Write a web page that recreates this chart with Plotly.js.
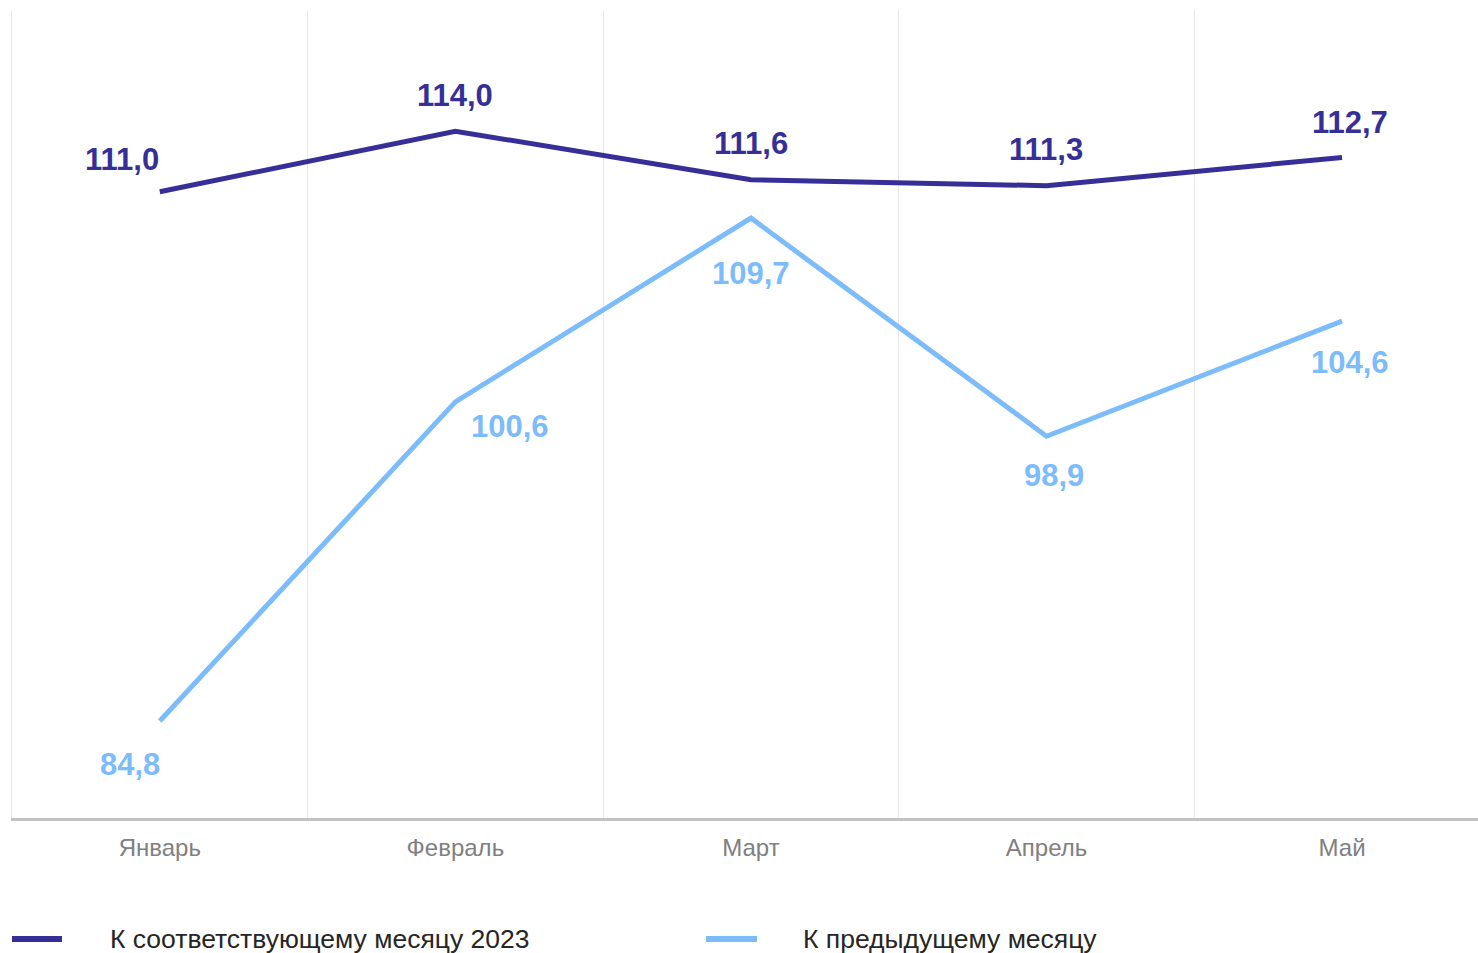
<!DOCTYPE html>
<html><head><meta charset="utf-8">
<script src="https://cdn.plot.ly/plotly-3.0.1.min.js"></script>
<style>html,body{margin:0;padding:0;background:#fff;overflow:hidden}</style>
</head><body><div id="chart" style="width:1478px;height:953px"></div>
<script>
// ---- data ----
const months = ["Январь", "Февраль", "Март", "Апрель", "Май"];
const seriesYoYName = "К соответствующему месяцу 2023";
const seriesYoY = [111.0, 114.0, 111.6, 111.3, 112.7];
const seriesMoMName = "К предыдущему месяцу";
const seriesMoM = [84.8, 100.6, 109.7, 98.9, 104.6];

// ---- styling ----
const darkColor = "#352f97";
const lightColor = "#7dbcfb";
const FONT = "'Liberation Sans', Arial, sans-serif";
// label offsets (pixels) [xshift, yshift]
const yoyOffsets = [[-38, 32], [0, 36], [0, 36], [0, 36], [8, 35]];
const momOffsets = [[-30, -43], [55, -25], [0, -55], [8, -39], [8, -41]];

const W = 1478, H = 953;
const mL = 12, mR = 0, mT = 10, mB = 135;
const plotW = W - mL - mR, plotH = H - mT - mB;
const px = x => (x - mL) / plotW;
const py = y => (mT + plotH - y) / plotH;

const idx = months.map((_, i) => i);

const traces = [
  {x: idx, y: seriesYoY, type: "scatter", mode: "lines", name: seriesYoYName,
   line: {color: darkColor, width: 5}, showlegend: false, hoverinfo: "y", cliponaxis: false},
  {x: idx, y: seriesMoM, type: "scatter", mode: "lines", name: seriesMoMName,
   line: {color: lightColor, width: 5}, showlegend: false, hoverinfo: "y", cliponaxis: false}
];

const fmt = v => v.toFixed(1).replace(".", ",");
const annotations = [];
seriesYoY.forEach((v, i) => annotations.push({
  x: i, y: v, xref: "x", yref: "y", text: "<b>" + fmt(v) + "</b>", showarrow: false,
  xanchor: "center", yanchor: "middle", xshift: yoyOffsets[i][0], yshift: yoyOffsets[i][1],
  font: {family: FONT, size: 31, color: darkColor}
}));
seriesMoM.forEach((v, i) => annotations.push({
  x: i, y: v, xref: "x", yref: "y", text: "<b>" + fmt(v) + "</b>", showarrow: false,
  xanchor: "center", yanchor: "middle", xshift: momOffsets[i][0], yshift: momOffsets[i][1],
  font: {family: FONT, size: 31, color: lightColor}
}));
// manual legend
const legY = py(939);
annotations.push({x: px(108), y: legY, xref: "paper", yref: "paper", text: seriesYoYName,
  showarrow: false, xanchor: "left", yanchor: "middle", font: {family: FONT, size: 26.5, color: "#262626"}});
annotations.push({x: px(801), y: legY, xref: "paper", yref: "paper", text: seriesMoMName,
  showarrow: false, xanchor: "left", yanchor: "middle", font: {family: FONT, size: 26.5, color: "#262626"}});

const shapes = [
  {type: "line", xref: "paper", yref: "paper", x0: px(12), x1: px(62), y0: legY, y1: legY,
   line: {color: darkColor, width: 6}},
  {type: "line", xref: "paper", yref: "paper", x0: px(706), x1: px(757), y0: legY, y1: legY,
   line: {color: lightColor, width: 6}}
];

const layout = {
  width: W, height: H,
  margin: {l: mL, r: mR, t: mT, b: mB},
  paper_bgcolor: "#ffffff", plot_bgcolor: "#ffffff",
  showlegend: false,
  font: {family: FONT},
  xaxis: {
    range: [-0.5, 4.46], tickmode: "array", tickvals: idx, ticktext: months,
    showgrid: false, zeroline: false, showline: true, linecolor: "#c3c3c3", linewidth: 2.5,
    ticks: "", ticklabelstandoff: 7,
    tickfont: {family: FONT, size: 24, color: "#808080"},
    minor: {tickmode: "linear", tick0: 0.5, dtick: 1, showgrid: true, gridcolor: "#e8e8e8", gridwidth: 1, ticks: ""},
    fixedrange: true
  },
  yaxis: {
    range: [80, 120], showgrid: false, zeroline: false, showticklabels: false, ticks: "",
    showline: true, linecolor: "#e8e8e8", linewidth: 1, fixedrange: true
  },
  annotations: annotations,
  shapes: shapes
};

Plotly.newPlot("chart", traces, layout, {displayModeBar: false, staticPlot: true});
</script></body></html>
